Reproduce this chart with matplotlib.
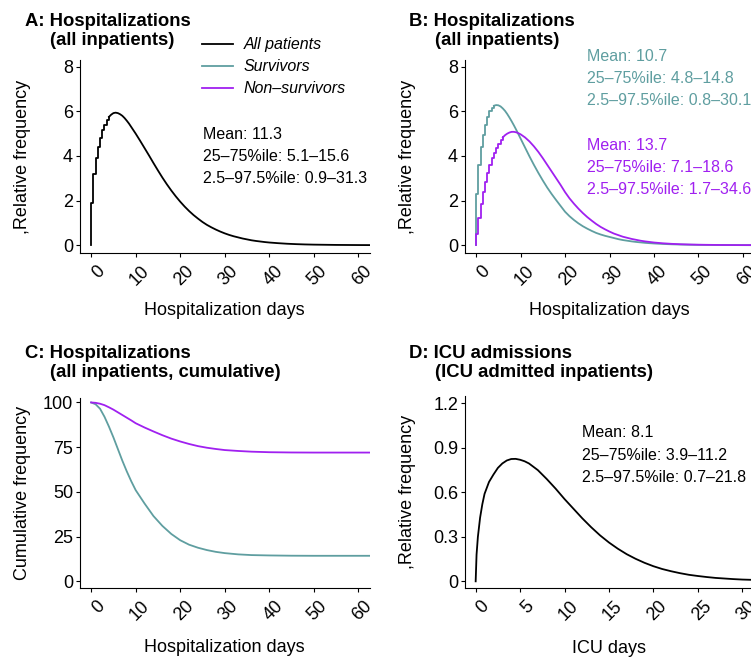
import matplotlib
matplotlib.use('agg')
import matplotlib.pyplot as plt
from matplotlib.lines import Line2D
from matplotlib.transforms import ScaledTranslation

plt.rcParams['font.family'] = ['Liberation Sans', 'DejaVu Sans']

# ---- data ----
hosp_days = [0, 0.5, 1, 1.5, 2, 2.5, 3, 3.5, 4, 4.5, 5, 5.5, 6, 6.5, 7, 7.5, 8, 8.5, 9, 9.5, 10,
             11, 12, 13, 14, 15, 16, 17, 18, 19, 20, 21, 22, 23, 24, 25, 26, 27, 28, 29, 30,
             31, 32, 33, 34, 35, 36, 37, 38, 39, 40, 42, 44, 46, 48, 50, 55, 60, 63]
all_freq = [1.9, 3.2, 3.9, 4.4, 4.8, 5.15, 5.4, 5.6, 5.75, 5.85, 5.92, 5.94, 5.92, 5.87, 5.8, 5.7,
            5.58, 5.45, 5.3, 5.15, 5.0,
            4.68, 4.35, 4.02, 3.68, 3.35, 3.03, 2.73, 2.45, 2.19, 1.95, 1.73, 1.53, 1.35, 1.19,
            1.04, 0.91, 0.8, 0.7, 0.61, 0.53, 0.46, 0.4, 0.35, 0.3, 0.26, 0.22, 0.19, 0.165,
            0.14, 0.12, 0.09, 0.065, 0.047, 0.034, 0.025, 0.012, 0.006, 0.004]
surv_freq = [2.3, 3.6, 4.4, 4.95, 5.4, 5.75, 6.0, 6.15, 6.25, 6.28, 6.27, 6.22, 6.13, 6.02, 5.88,
             5.72, 5.55, 5.37, 5.18, 4.98, 4.78,
             4.38, 3.98, 3.6, 3.24, 2.9, 2.58, 2.29, 2.02, 1.76, 1.5, 1.3, 1.13, 0.98, 0.85,
             0.74, 0.64, 0.55, 0.48, 0.42, 0.37, 0.32, 0.27, 0.23, 0.2, 0.17, 0.145, 0.125,
             0.105, 0.09, 0.077, 0.056, 0.04, 0.029, 0.021, 0.015, 0.007, 0.003, 0.002]
nonsurv_freq = [0.5, 1.2, 1.85, 2.4, 2.85, 3.25, 3.6, 3.9, 4.15, 4.37, 4.55, 4.7, 4.83, 4.93, 5.0,
                5.05, 5.08, 5.08, 5.06, 5.02, 4.97,
                4.83, 4.65, 4.43, 4.18, 3.9, 3.6, 3.3, 3.0, 2.7, 2.38, 2.1, 1.86, 1.64, 1.44,
                1.26, 1.1, 0.95, 0.82, 0.71, 0.61, 0.52, 0.45, 0.38, 0.33, 0.28, 0.24, 0.2,
                0.17, 0.145, 0.12, 0.085, 0.06, 0.042, 0.03, 0.021, 0.009, 0.004, 0.003]

cum_days = [0, 1, 2, 3, 4, 5, 6, 7, 8, 9, 10, 12, 14, 16, 18, 20, 22, 24, 26, 28, 30,
            33, 36, 40, 45, 50, 55, 63]
surv_cum = [100, 99, 96.5, 92, 86.5, 80.5, 74, 67.5, 61.5, 56, 51, 43.5, 36.5, 31, 26.5, 23,
            20.5, 18.8, 17.5, 16.5, 15.8, 15.1, 14.7, 14.5, 14.35, 14.3, 14.3, 14.3]
nonsurv_cum = [100, 99.8, 99.3, 98.5, 97.3, 96, 94.5, 93, 91.5, 90, 88.4, 86, 83.8, 81.7, 79.8,
               78.2, 76.8, 75.6, 74.7, 74, 73.4, 72.9, 72.5, 72.2, 72.05, 72.0, 72.0, 72.0]

icu_days = [0, 0.1, 0.25, 0.5, 0.75, 1, 1.5, 2, 2.5, 3, 3.5, 4, 4.5, 5, 5.5, 6,
            7, 8, 9, 10, 11, 12, 13, 14, 15, 16, 17, 18, 19, 20, 21, 22, 23, 24, 25, 26,
            27, 28, 29, 30, 31.1]
icu_freq = [0, 0.18, 0.3, 0.43, 0.52, 0.59, 0.67, 0.72, 0.765, 0.795, 0.815, 0.825, 0.826,
            0.82, 0.81, 0.795, 0.75, 0.69, 0.625, 0.555, 0.49, 0.425, 0.365, 0.31, 0.262,
            0.22, 0.183, 0.152, 0.125, 0.102, 0.083, 0.068, 0.055, 0.044, 0.036, 0.029,
            0.023, 0.019, 0.015, 0.012, 0.01]

stats_all = ['Mean: 11.3', '25\u201375%ile: 5.1\u201315.6', '2.5\u201397.5%ile: 0.9\u201331.3']
stats_surv = ['Mean: 10.7', '25\u201375%ile: 4.8\u201314.8', '2.5\u201397.5%ile: 0.8\u201330.1']
stats_nonsurv = ['Mean: 13.7', '25\u201375%ile: 7.1\u201318.6', '2.5\u201397.5%ile: 1.7\u201334.6']
stats_icu = ['Mean: 8.1', '25\u201375%ile: 3.9\u201311.2', '2.5\u201397.5%ile: 0.7\u201321.8']

TEAL = '#5F9EA0'
PURPLE = '#A020F0'
LW = 1.3

W, H = 751, 657
fig = plt.figure(figsize=(W / 100, H / 100), dpi=100)


def add_ax(l, r, t, b):
    return fig.add_axes([l / W, 1 - b / H, (r - l) / W, (b - t) / H])


def ftext(x, y, s, **kw):
    fig.text(x / W, 1 - y / H, s, va='baseline', **kw)


def style(ax, xticks, xlabels, yticks, ylabels, xlab, ylab, xlim, ylim, xlab_y):
    for s in ['top', 'right']:
        ax.spines[s].set_visible(False)
    for s in ['left', 'bottom']:
        ax.spines[s].set_linewidth(0.8)
    ax.set_xlim(xlim)
    ax.set_ylim(ylim)
    ax.set_xticks(xticks)
    ax.set_xticklabels(xlabels, rotation=45, ha='right', va='top', rotation_mode='anchor')
    ax.set_yticks(yticks)
    ax.set_yticklabels(ylabels)
    ax.tick_params(length=3, width=0.8, labelsize=13, colors='black')
    ax.tick_params(axis='x', pad=4)
    ax.tick_params(axis='y', pad=2)
    off = ScaledTranslation(0.05, 0, fig.dpi_scale_trans)
    for lbl in ax.get_xticklabels():
        lbl.set_transform(lbl.get_transform() + off)
    ax.set_xlabel(xlab, fontsize=13)
    ax.set_ylabel(ylab, fontsize=13)
    ax.xaxis.set_label_coords(0.5, xlab_y)
    ax.yaxis.set_label_coords(-0.17, 0.5)


def step_then_line(ax, x, y, color, cut=4):
    # histogram-like stairs on the steep rise, plain line after
    k = x.index(cut)
    ax.step([x[0]] + x[:k + 1], [0] + y[:k + 1], where='post', color=color, lw=LW)
    ax.plot(x[k:], y[k:], color=color, lw=LW)


hosp_ticks = [0, 10, 20, 30, 40, 50, 60]
hosp_tlabels = [str(t) for t in hosp_ticks]
freq_ticks = [0, 2, 4, 6, 8]
freq_tlabels = [str(t) for t in freq_ticks]

# A
axA = add_ax(80, 369.5, 60, 253)
step_then_line(axA, hosp_days, all_freq, 'black')
style(axA, hosp_ticks, hosp_tlabels, freq_ticks, freq_tlabels,
      'Hospitalization days', ',Relative frequency', (-2.5, 62.5), (-0.35, 8.3), -0.256)

# B
axB = add_ax(465, 754, 60, 253)
step_then_line(axB, hosp_days, surv_freq, TEAL)
step_then_line(axB, hosp_days, nonsurv_freq, PURPLE, cut=6)
style(axB, hosp_ticks, hosp_tlabels, freq_ticks, freq_tlabels,
      'Hospitalization days', ',Relative frequency', (-2.5, 62.5), (-0.35, 8.3), -0.256)

# C
axC = add_ax(80, 369.5, 398, 588)
axC.plot(cum_days, surv_cum, color=TEAL, lw=LW)
axC.plot(cum_days, nonsurv_cum, color=PURPLE, lw=LW)
cum_ticks = [0, 25, 50, 75, 100]
style(axC, hosp_ticks, hosp_tlabels, cum_ticks, [str(t) for t in cum_ticks],
      'Hospitalization days', 'Cumulative frequency', (-2.5, 62.5), (-3.7, 102.5), -0.266)

# D
axD = add_ax(465, 752, 396, 588)
axD.plot(icu_days, icu_freq, color='black', lw=LW)
icu_ticks = [0, 5, 10, 15, 20, 25, 30]
icu_yticks = [0, 0.3, 0.6, 0.9, 1.2]
style(axD, icu_ticks, [str(t) for t in icu_ticks], icu_yticks, ['0', '0.3', '0.6', '0.9', '1.2'],
      'ICU days', ',Relative frequency', (-1.2, 31.1), (-0.045, 1.25), -0.271)

# titles
TFS = 13.3
ftext(25, 26, 'A: Hospitalizations', fontsize=TFS, weight='bold')
ftext(50, 45, '(all inpatients)', fontsize=TFS, weight='bold')
ftext(409, 26, 'B: Hospitalizations', fontsize=TFS, weight='bold')
ftext(435, 45, '(all inpatients)', fontsize=TFS, weight='bold')
ftext(25, 358, 'C: Hospitalizations', fontsize=TFS, weight='bold')
ftext(50, 377, '(all inpatients, cumulative)', fontsize=TFS, weight='bold')
ftext(409, 358, 'D: ICU admissions', fontsize=TFS, weight='bold')
ftext(435, 377, '(ICU admitted inpatients)', fontsize=TFS, weight='bold')

# annotations
AFS = 11.5
for i, s in enumerate(stats_all):
    ftext(202.7, 139.3 + 22 * i, s, fontsize=AFS)
for i, s in enumerate(stats_surv):
    ftext(586.7, 61 + 22.2 * i, s, fontsize=AFS, color=TEAL)
for i, s in enumerate(stats_nonsurv):
    ftext(586.7, 150 + 22.2 * i, s, fontsize=AFS, color=PURPLE)
for i, s in enumerate(stats_icu):
    ftext(582.3, 437.3 + 22.2 * i, s, fontsize=AFS)

# legend
legend_items = [('black', 'All patients'), (TEAL, 'Survivors'), (PURPLE, 'Non\u2013survivors')]
for i, (c, lab) in enumerate(legend_items):
    y = 44.3 + 22 * i
    fig.add_artist(Line2D([202.3 / W, 233.3 / W], [1 - y / H] * 2, color=c, lw=LW))
    ftext(243.5, y + 4.7, lab, fontsize=AFS, style='italic')

fig.savefig('out.png', dpi=100)
